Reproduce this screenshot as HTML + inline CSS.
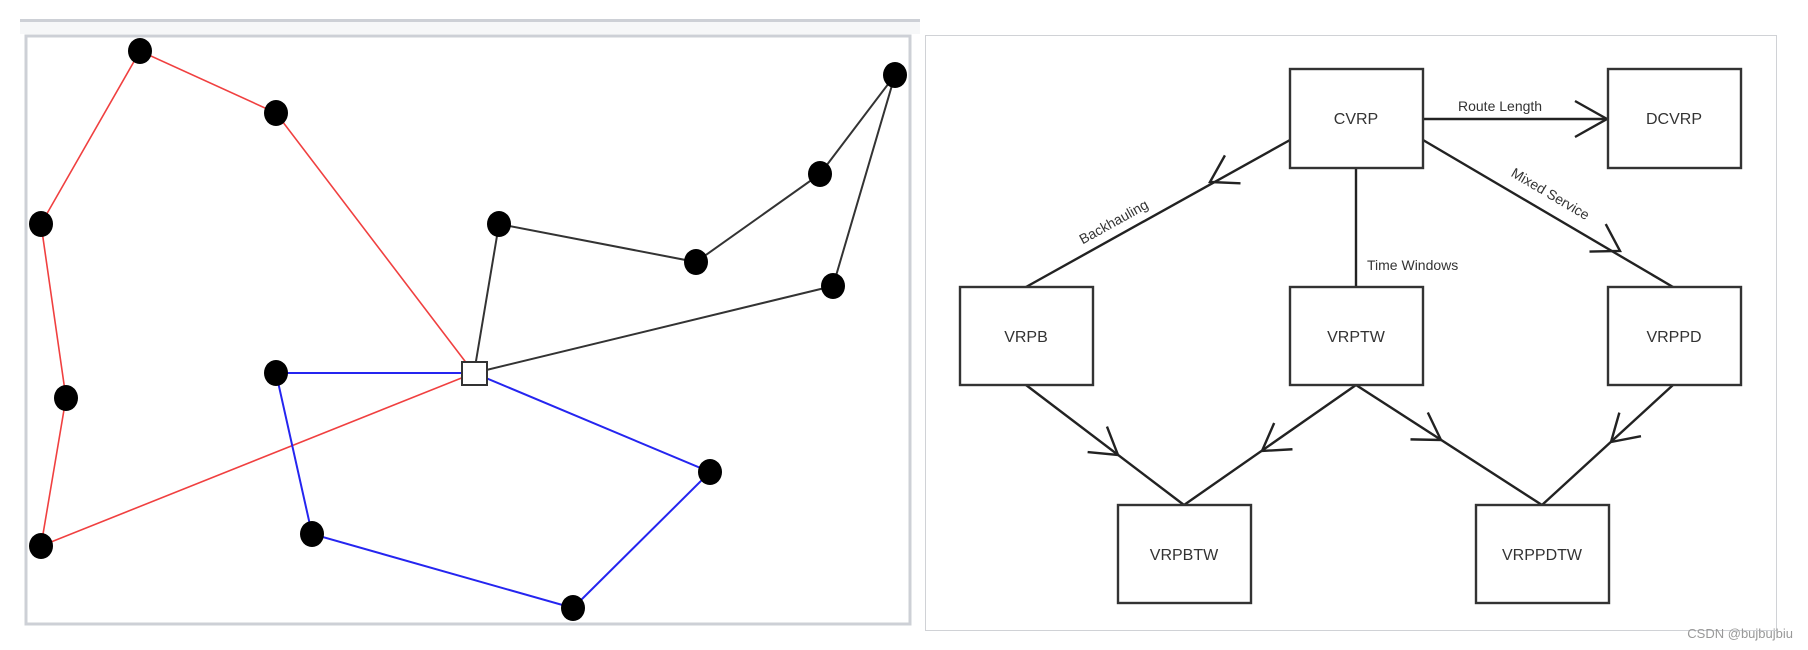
<!DOCTYPE html>
<html><head><meta charset="utf-8"><style>
html,body{margin:0;padding:0;background:#fff;}
svg{display:block;}
</style></head><body>
<svg width="1808" height="650" viewBox="0 0 1808 650" xmlns="http://www.w3.org/2000/svg" font-family="Liberation Sans, sans-serif">
<rect x="0" y="0" width="1808" height="650" fill="#fff"/>
<!-- left panel -->
<rect x="20" y="19" width="900" height="3" fill="#cdd0d6"/>
<rect x="20" y="22" width="900" height="12" fill="#f6f7f8"/>
<rect x="26" y="36" width="884" height="588" fill="#fff" stroke="#cdd0d6" stroke-width="3"/>
<g fill="none" stroke-width="1.6">
<polyline stroke="#f04040" points="474,373 276,113 140,51 41,224 66,398 41,546 474,373"/>
<polyline stroke="#2525f0" stroke-width="2" points="474,373 276,373 312,534 573,608 710,472 474,373"/>
<polyline stroke="#333" stroke-width="2" points="474,373 499,224 696,262 820,174 895,75 833,286 474,373"/>
</g>
<g fill="#000">
<ellipse cx="140" cy="51" rx="12" ry="13"/>
<ellipse cx="276" cy="113" rx="12" ry="13"/>
<ellipse cx="41" cy="224" rx="12" ry="13"/>
<ellipse cx="66" cy="398" rx="12" ry="13"/>
<ellipse cx="41" cy="546" rx="12" ry="13"/>
<ellipse cx="276" cy="373" rx="12" ry="13"/>
<ellipse cx="312" cy="534" rx="12" ry="13"/>
<ellipse cx="573" cy="608" rx="12" ry="13"/>
<ellipse cx="710" cy="472" rx="12" ry="13"/>
<ellipse cx="499" cy="224" rx="12" ry="13"/>
<ellipse cx="696" cy="262" rx="12" ry="13"/>
<ellipse cx="820" cy="174" rx="12" ry="13"/>
<ellipse cx="895" cy="75" rx="12" ry="13"/>
<ellipse cx="833" cy="286" rx="12" ry="13"/>
</g>
<rect x="462" y="362" width="25" height="23" fill="#fff" stroke="#333" stroke-width="2"/>

<!-- right panel -->
<rect x="925.5" y="35.5" width="851" height="595" fill="none" stroke="#d0d2d6" stroke-width="1"/>
<g fill="none" stroke="#222" stroke-width="2.4">
<line x1="1423" y1="119" x2="1607" y2="119"/>
<line x1="1290" y1="140" x2="1026" y2="287"/>
<line x1="1356" y1="168" x2="1356" y2="287"/>
<line x1="1423" y1="140" x2="1673" y2="287"/>
<line x1="1026" y1="385" x2="1184" y2="505"/>
<line x1="1356" y1="385" x2="1184" y2="505"/>
<line x1="1356" y1="385" x2="1542" y2="505"/>
<line x1="1673" y1="385" x2="1542" y2="505"/>
<g stroke-linecap="butt">
<path d="M-32,-18 L0,0 L-32,18" transform="translate(1607,119)"/>
<path d="M-26,-16 L0,0 L-26,16" transform="translate(1210,182) rotate(150.9)"/>
<path d="M-26,-16 L0,0 L-26,16" transform="translate(1620,251) rotate(30.5)"/>
<path d="M-26,-16 L0,0 L-26,16" transform="translate(1118,455) rotate(37.2)"/>
<path d="M-26,-16 L0,0 L-26,16" transform="translate(1262,451) rotate(145.1)"/>
<path d="M-26,-16 L0,0 L-26,16" transform="translate(1441,440) rotate(32.8)"/>
<path d="M-26,-16 L0,0 L-26,16" transform="translate(1611,442) rotate(137.5)"/>
</g>
</g>
<g fill="#fff" stroke="#333" stroke-width="2.4">
<rect x="1290" y="69" width="133" height="99"/>
<rect x="1608" y="69" width="133" height="99"/>
<rect x="960" y="287" width="133" height="98"/>
<rect x="1290" y="287" width="133" height="98"/>
<rect x="1608" y="287" width="133" height="98"/>
<rect x="1118" y="505" width="133" height="98"/>
<rect x="1476" y="505" width="133" height="98"/>
</g>
<g fill="#333" font-size="16" text-anchor="middle">
<text x="1356" y="124">CVRP</text>
<text x="1674" y="124">DCVRP</text>
<text x="1026" y="342">VRPB</text>
<text x="1356" y="342">VRPTW</text>
<text x="1674" y="342">VRPPD</text>
<text x="1184" y="560">VRPBTW</text>
<text x="1542" y="560">VRPPDTW</text>
</g>
<g fill="#333" font-size="14">
<text x="1458" y="111">Route Length</text>
<text x="1367" y="270">Time Windows</text>
<text x="1116" y="226" text-anchor="middle" transform="rotate(-29 1116 226)">Backhauling</text>
<text x="1548" y="198" text-anchor="middle" transform="rotate(30.5 1548 198)">Mixed Service</text>
</g>
<text x="1793" y="638" text-anchor="end" font-size="13" fill="#999">CSDN @bujbujbiu</text>
</svg>
</body></html>
